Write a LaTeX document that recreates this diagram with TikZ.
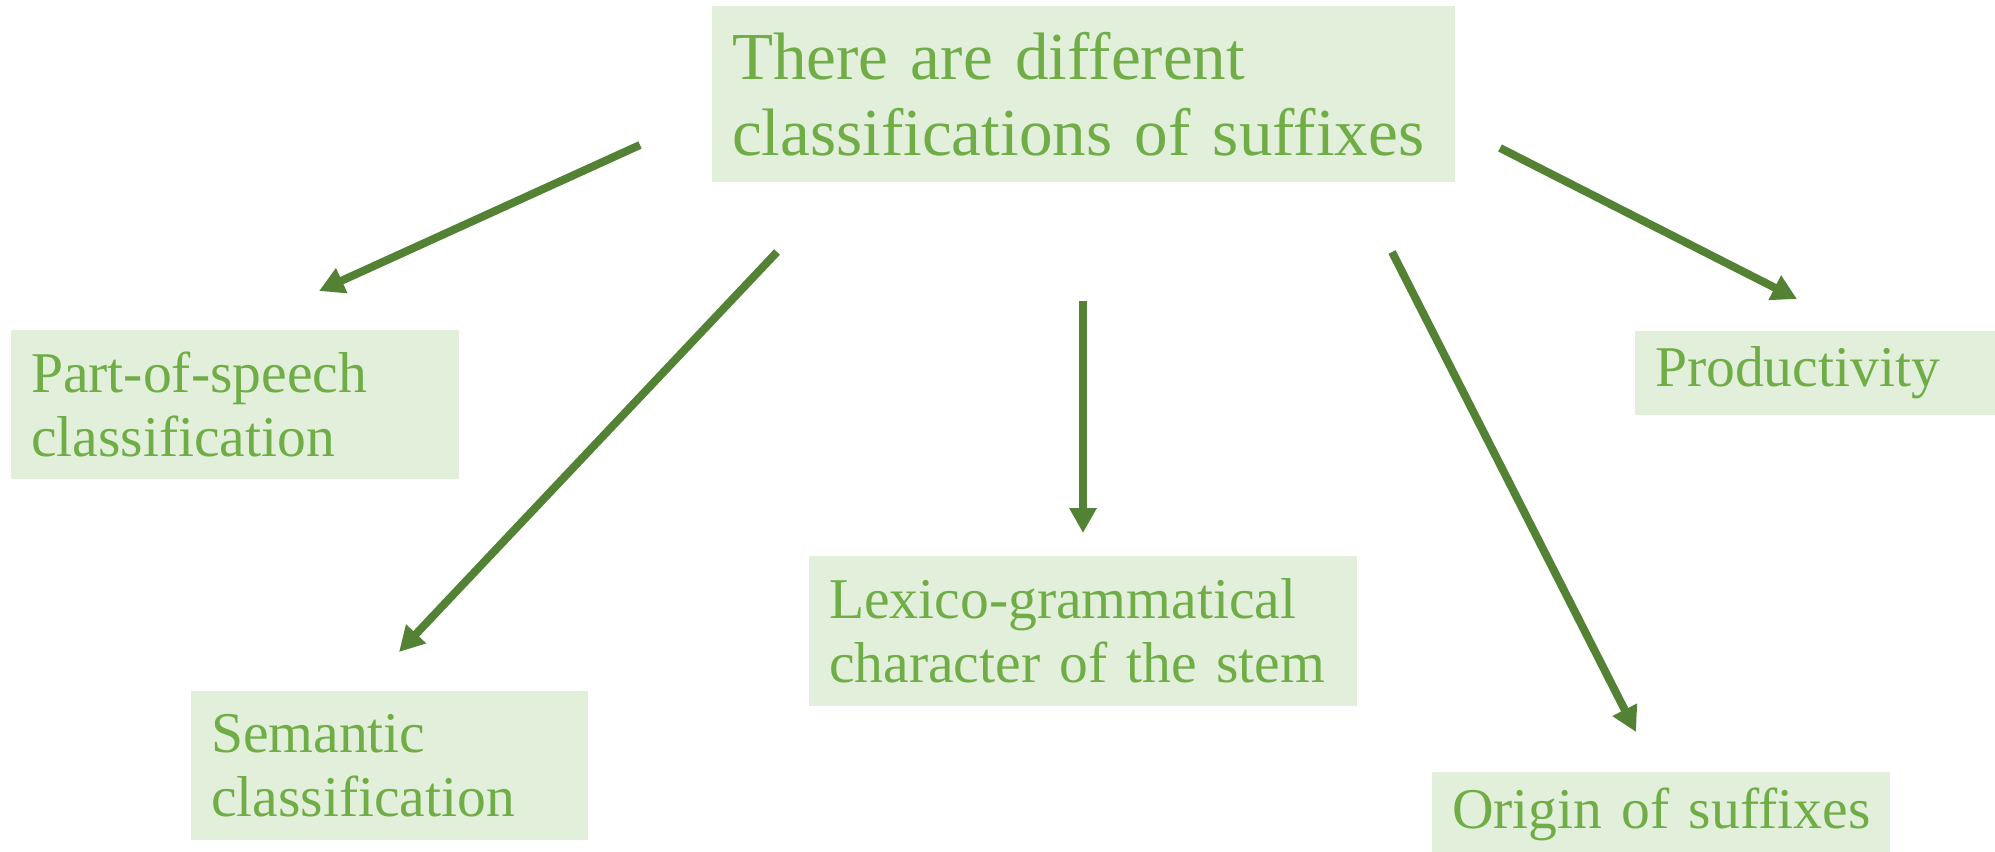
\documentclass[tikz,border=0pt]{standalone}
\usepackage{fontspec}
\setmainfont{Liberation Serif}
\usepackage{tikz}
\usepackage{xcolor}
\usetikzlibrary{arrows.meta,positioning,calc}
\definecolor{boxgreen}{RGB}{226,239,218}
\definecolor{textgreen}{RGB}{112,173,71}
\definecolor{arrowgreen}{RGB}{84,130,53}
\hyphenpenalty=10000
\exhyphenpenalty=10000

\begin{document}
\begin{tikzpicture}[x=1cm,y=-1cm,
  catbox/.style={fill=boxgreen,text=textgreen,align=left,inner xsep=0.2cm,inner ysep=0pt,font=\fontsize{16.4pt}{18.3pt}\selectfont},
  arr/.style={draw=arrowgreen,line width=0.08cm,-{Triangle[length=0.25cm,width=0.26cm]}}]
\useasboundingbox (0,0) rectangle (19.95,8.52);
\node[catbox,font=\fontsize{19.1pt}{21.6pt}\selectfont,text width=7.03cm,minimum height=1.76cm] (root) at (10.835,0.94) {There~are~different\\classifications~of~suffixes};
\node[catbox,text width=4.08cm,minimum height=1.49cm] (pos) at (2.35,4.045) {Part-of-speech\\classification};
\node[catbox,text width=4.08cm,minimum height=0.84cm] (prod) at (18.59,3.73) {Productivity};
\node[catbox,text width=5.08cm,minimum height=1.50cm] (lex) at (10.83,6.31) {Lexico-grammatical\\character~of~the~stem};
\node[catbox,text width=3.57cm,minimum height=1.49cm] (sem) at (3.895,7.655) {Semantic\\classification};
\node[catbox,text width=4.18cm,minimum height=0.84cm] (orig) at (16.61,8.14) {Origin~of~suffixes};
% arrow ends, kept clear of the boxes
\coordinate (r1) at (6.40,1.45); \coordinate (t1) at (3.19,2.91);
\coordinate (r2) at (7.77,2.52); \coordinate (t2) at (3.99,6.52);
\coordinate (r3) at (10.83,3.01); \coordinate (t3) at (10.83,5.33);
\coordinate (r4) at (13.92,2.52); \coordinate (t4) at (16.36,7.32);
\coordinate (r5) at (15.00,1.48); \coordinate (t5) at (17.97,2.99);
\draw[arr] (r1) -- (t1); \draw[arr] (r2) -- (t2); \draw[arr] (r3) -- (t3); \draw[arr] (r4) -- (t4); \draw[arr] (r5) -- (t5);
\end{tikzpicture}
\end{document}
